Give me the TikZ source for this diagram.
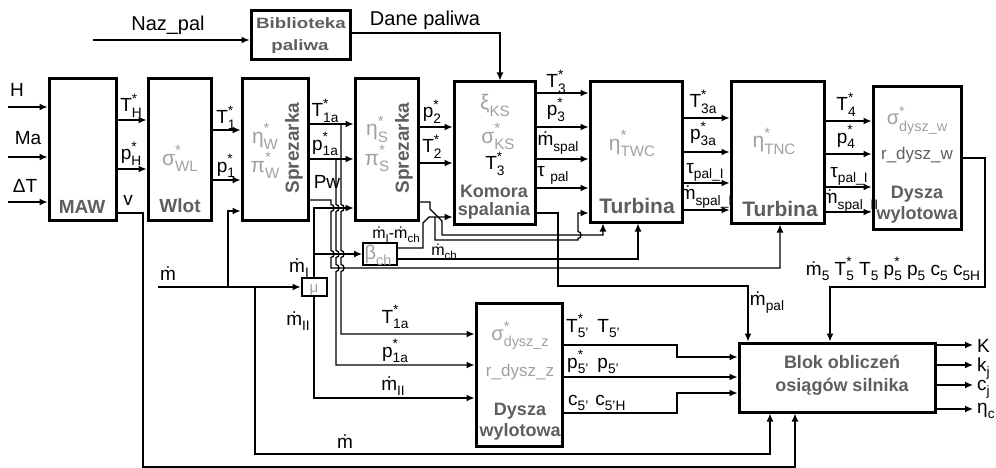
\documentclass[tikz,border=0pt]{standalone}
\usepackage{fontspec}
\usepackage{graphicx}
\setmainfont{Liberation Sans}
\usetikzlibrary{arrows.meta}
\definecolor{dg}{HTML}{5E5E5E}
\definecolor{lg}{HTML}{A0A0A0}
\newcommand{\fs}[1]{\fontsize{#1}{#1}\selectfont}
\makeatletter
\newcommand{\smf}{\fontsize{\fpeval{round(0.72*\f@size,1)}}{1}\selectfont}
\makeatother
\newcommand{\dn}[1]{\raisebox{-.3em}{\smf #1}}
\newcommand{\lbl}[3]{#1\rlap{\raisebox{.45em}{\smf #2}}\dn{#3}}
\newcommand{\md}{ṁ}
\begin{document}
\begin{tikzpicture}[x=1pt,y=-1pt,
  blk/.style={draw,line width=3pt,inner sep=0pt},
  sblk/.style={draw,line width=2pt,inner sep=0pt},
  con/.style={line width=1.3pt,-{Latex[length=8pt,width=7pt]}},
  lab/.style={anchor=base,inner sep=0pt,font=\fs{19}},
  big/.style={anchor=base,inner sep=0pt,font=\fs{20}},
  bt/.style={anchor=base,inner sep=0pt,font=\fs{18}\bfseries,text=dg},
  prm/.style={anchor=base,inner sep=0pt,font=\fs{21},text=lg}]
\useasboundingbox (0,0) rectangle (996,468);
% blocks
\node[blk,minimum width=99pt,minimum height=49pt] (bib) at (300.5,35.5) {};
\node[blk,minimum width=67pt,minimum height=141pt] (maw) at (82.5,149.5) {};
\node[blk,minimum width=63pt,minimum height=141pt] (wlot) at (179.5,149.5) {};
\node[blk,minimum width=66pt,minimum height=141pt] (spr1) at (275,149.5) {};
\node[blk,minimum width=63pt,minimum height=141pt] (spr2) at (386.5,149.5) {};
\node[blk,minimum width=81pt,minimum height=142pt] (kom) at (494.5,153) {};
\node[blk,minimum width=92pt,minimum height=140pt] (tur1) at (636,152) {};
\node[blk,minimum width=93pt,minimum height=141pt] (tur2) at (777.5,152.5) {};
\node[blk,minimum width=88pt,minimum height=142pt] (dyw) at (917,158) {};
\node[sblk,minimum width=25pt,minimum height=18pt] (mu) at (314,287) {};
\node[sblk,minimum width=34pt,minimum height=22pt] (beta) at (380,254) {};
\node[blk,minimum width=86pt,minimum height=143pt] (dyz) at (519,374.5) {};
\node[blk,minimum width=196pt,minimum height=69pt] (blok) at (837,377.5) {};
% block titles
\node[bt] (tb1) at (301,29) {\scalebox{1.25}[1]{\fs{15}Biblioteka}};
\node[bt] (tb2) at (300,51) {\scalebox{1.25}[1]{\fs{15}paliwa}};
\node[bt,font=\fs{19}\bfseries] (tmaw) at (82,213) {MAW};
\node[bt,font=\fs{19}\bfseries] (twl) at (180,212) {Wlot};
\node[bt,font=\fs{19}\bfseries,rotate=90,anchor=center] (tsp1) at (294,148) {Sprezarka};
\node[bt,font=\fs{19}\bfseries,rotate=90,anchor=center] (tsp2) at (404,148) {Sprezarka};
\node[bt] (tk1) at (494,197) {Komora};
\node[bt] (tk2) at (494,215) {spalania};
\node[bt,font=\fs{21}\bfseries] (tt1) at (637,213) {Turbina};
\node[bt,font=\fs{21}\bfseries] (tt2) at (780,216) {Turbina};
\node[bt] (td1) at (917,198) {Dysza};
\node[bt] (td2) at (917,219) {wylotowa};
\node[bt] (tz1) at (520,415) {Dysza};
\node[bt] (tz2) at (520,436) {wylotowa};
\node[bt] (tb3) at (842,368) {Blok obliczeń};
\node[bt] (tb4) at (842,391) {osiągów silnika};
% parameters
\node[prm] (psWL) at (180,165) {\lbl{σ}{*}{WL}};
\node[prm] (peW) at (265,143) {\lbl{η}{*}{W}};
\node[prm] (ppW) at (265,172) {\lbl{π}{*}{W}};
\node[prm] (peS) at (377,136) {\lbl{η}{*}{S}};
\node[prm] (ppS) at (377,165) {\lbl{π}{*}{S}};
\node[prm] (pxi) at (495,110) {ξ\dn{KS}};
\node[prm] (psKS) at (498,143) {\lbl{σ}{*}{KS}};
\node[lab] (pT3) at (495,170) {\lbl{T}{*}{3}};
\node[prm] (peT) at (632,150) {\lbl{η}{*}{TWC}};
\node[prm] (peN) at (774,148) {\lbl{η}{*}{TNC}};
\node[prm,font=\fs{20}] (psw) at (917,125) {\lbl{σ}{*}{dysz\_w}};
\node[lab,text=dg,font=\fs{17}] (prw) at (917,160) {r\_dysz\_w};
\node[prm,font=\fs{20}] (psz) at (520,340) {\lbl{σ}{*}{dysz\_z}};
\node[prm,font=\fs{17}] (prz) at (520,376) {r\_dysz\_z};
\node[prm,font=\fs{15}] (pmu) at (314,292) {μ};
\node[prm,font=\fs{20}] (pbe) at (378,259) {β\dn{ch}};
% labels
\node[big] (lnaz) at (168,31) {Naz\_pal};
\node[big] (ldane) at (425,26) {Dane paliwa};
\node[lab] (lH) at (17,97) {H};
\node[lab] (lMa) at (28,145) {Ma};
\node[lab] (ldT) at (25,193) {ΔT};
\node[lab] (lTH) at (131,112) {\lbl{T}{*}{H}};
\node[lab] (lpH) at (131,160) {\lbl{p}{*}{H}};
\node[lab] (lv) at (128,205) {v};
\node[lab] (lT1) at (226,124) {\lbl{T}{*}{1}};
\node[lab] (lp1) at (226,172) {\lbl{p}{*}{1}};
\node[lab] (lT1a) at (325,117) {\lbl{T}{*}{1a}};
\node[lab] (lp1a) at (325,150) {\lbl{p}{*}{1a}};
\node[lab] (lPw) at (327,188) {Pw};
\node[lab] (lp2) at (432,118) {\lbl{p}{*}{2}};
\node[lab] (lT2) at (432,153) {\lbl{T}{*}{2}};
\node[lab] (lT3) at (556,88) {\lbl{T}{*}{3}};
\node[lab] (lp3) at (556,116) {\lbl{p}{*}{3}};
\node[lab] (lms) at (558,146) {\md\dn{spal}};
\node[lab] (ltp) at (553,176) {τ\ \dn{pal}};
\node[lab] (lT3a) at (703,108) {\lbl{T}{*}{3a}};
\node[lab] (lp3a) at (703,140) {\lbl{p}{*}{3a}};
\node[lab] (ltp1) at (705,173) {τ\dn{pal\_I}};
\node[lab] (lms1) at (706,200) {\md\dn{spal\_I}};
\node[lab] (lT4) at (846,111) {\lbl{T}{*}{4}};
\node[lab] (lp4) at (846,143) {\lbl{p}{*}{4}};
\node[lab] (ltp2) at (849,177) {τ\dn{pal\_I}};
\node[lab] (lms2) at (850,204) {\md\dn{spal\_II}};
\node[lab] (lm) at (168,280) {\md};
\node[lab] (lmI) at (299,272) {\md\dn{I}};
\node[lab] (lmII) at (298,325) {\md\dn{II}};
\node[lab,font=\fs{16}] (lmIch) at (396,238) {\md\dn{I}-\md\dn{ch}};
\node[lab,font=\fs{16}] (lmch) at (444,255) {\md\dn{ch}};
\node[lab] (lT1b) at (395,323) {\lbl{T}{*}{1a}};
\node[lab] (lp1b) at (395,357) {\lbl{p}{*}{1a}};
\node[lab] (lmIIb) at (393,390) {\md\dn{II}};
\node[lab] (lmb) at (345,448) {\md};
\node[lab,anchor=base west] (lT5) at (566,332) {\lbl{T}{*}{5'}\hspace{9pt}T\dn{5'}};
\node[lab,anchor=base west] (lp5) at (567,368) {\lbl{p}{*}{5'}\hspace{9pt}p\dn{5'}};
\node[lab,anchor=base west] (lc5) at (568,405) {c\dn{5'}\hspace{7pt}c\dn{5'H}};
\node[lab] (lmpal) at (767,305) {\md\dn{pal}};
\node[lab] (lm5) at (893,275) {\md\dn{5} \lbl{T}{*}{5} T\dn{5} \lbl{p}{*}{5} p\dn{5} c\dn{5} c\dn{5H}};
\node[lab,anchor=base west] (lK) at (977,352) {K};
\node[lab,anchor=base west] (lkj) at (977,371) {k\dn{j}};
\node[lab,anchor=base west] (lcj) at (977,390) {c\dn{j}};
\node[lab,anchor=base west] (lec) at (977,413) {η\dn{c}};
% connectors
\coordinate (cH) at (8,107); \coordinate (cMa) at (8,157); \coordinate (cdT) at (8,202);
\coordinate (cNaz) at (93,40); \coordinate (cm) at (158,287);
\draw[con] (cH) -- (maw.west |- cH);
\draw[con] (cMa) -- (maw.west |- cMa);
\draw[con] (cdT) -- (maw.west |- cdT);
\draw[con] (cNaz) -- (bib.west |- cNaz);
\draw[con] (bib.east |- 0,33) -- (500,33) -- (kom.north -| 500,0);
\draw[con] (maw.east |- 0,120) -- (wlot.west |- 0,120);
\draw[con] (maw.east |- 0,169) -- (wlot.west |- 0,169);
\draw[con] (maw.east |- 0,213) -- (143,213) -- (143,467) -- (795,467) -- (blok.south -| 795,0);
\draw[con] (wlot.east |- 0,130) -- (spr1.west |- 0,130);
\draw[con] (wlot.east |- 0,180) -- (spr1.west |- 0,180);
\draw[con] (cm) -- (mu.west);
\draw[con] (228,287) -- (228,211) -- (spr1.west |- 0,211);
\draw[con] (255,287) -- (255,454) -- (770,454) -- (blok.south -| 770,0);
\draw[con] (spr1.east |- 0,124) -- (spr2.west |- 0,124);
\draw[con] (spr1.east |- 0,159) -- (spr2.west |- 0,159);
% Pw
\draw[con] (spr1.east |- 0,200) -- (331,200) -- (331,204.5) .. controls (335,204.5) and (335,211.5) .. (331,211.5) -- (331,250.5) .. controls (335,250.5) and (335,257.5) .. (331,257.5) -- (331,268) -- (780,268) -- (tur2.south -| 780,0);
% T1a down
\draw[con] (341,124) -- (341,204.5) .. controls (345,204.5) and (345,211.5) .. (341,211.5) -- (341,250.5) .. controls (345,250.5) and (345,257.5) .. (341,257.5) -- (341,264.5) .. controls (345,264.5) and (345,271.5) .. (341,271.5) -- (341,334) -- (dyz.west |- 0,334);
% p1a down
\draw[con] (336,159) -- (336,204.5) .. controls (340,204.5) and (340,211.5) .. (336,211.5) -- (336,250.5) .. controls (340,250.5) and (340,257.5) .. (336,257.5) -- (336,264.5) .. controls (340,264.5) and (340,271.5) .. (336,271.5) -- (336,365) -- (dyz.west |- 0,365);
% mI, mII
\draw[con] (mu.north) -- (314,208) -- (spr2.west |- 0,208);
\draw[con] (314,254) -- (beta.west);
\draw[con] (mu.south) -- (314,398) -- (dyz.west |- 0,398);
% beta outputs
\draw[con] (beta.east |- 0,248) -- (423,248) -- (423,223) -- (429,217) -- (kom.west |- 0,217);
\draw[con] (beta.east |- 0,259) -- (638,259) -- (tur1.south -| 638,0);
% Ps
\draw[con] (spr2.east |- 0,202) -- (430,202) -- (430,209) -- (442,221) -- (442,235) -- (603,235) -- (tur1.south -| 603,0);
\draw[con] (435,217) -- (435,240) -- (578,240) -- (578,238.5) .. controls (582,238.5) and (582,231.5) .. (578,231.5) -- (578,213) -- (tur1.west |- 0,213);
% spr2 -> kom
\draw[con] (spr2.east |- 0,127) -- (kom.west |- 0,127);
\draw[con] (spr2.east |- 0,163) -- (kom.west |- 0,163);
\foreach \y in {93,127,159,188} \draw[con] (kom.east |- 0,\y) -- (tur1.west |- 0,\y);
\draw[con] (kom.east |- 0,213) -- (558,213) -- (558,286) -- (748,286) -- (blok.north -| 748,0);
\foreach \y in {118,152,183,210} \draw[con] (tur1.east |- 0,\y) -- (tur2.west |- 0,\y);
\foreach \y in {121,154,187,212} \draw[con] (tur2.east |- 0,\y) -- (dyw.west |- 0,\y);
\draw[con] (dyw.east |- 0,158) -- (985,158) -- (985,287) -- (830,287) -- (blok.north -| 830,0);
\draw[con] (dyz.east |- 0,345) -- (677,345) -- (677,357) -- (blok.west |- 0,357);
\draw[con] (dyz.east |- 0,377) -- (blok.west |- 0,377);
\draw[con] (dyz.east |- 0,413) -- (677,413) -- (677,393) -- (blok.west |- 0,393);
\foreach \y/\n in {345/oa,365/ob,385/oc,409/od} {\coordinate (\n) at (973,\y); \draw[con] (blok.east |- \n) -- (\n);}
\end{tikzpicture}
\end{document}
